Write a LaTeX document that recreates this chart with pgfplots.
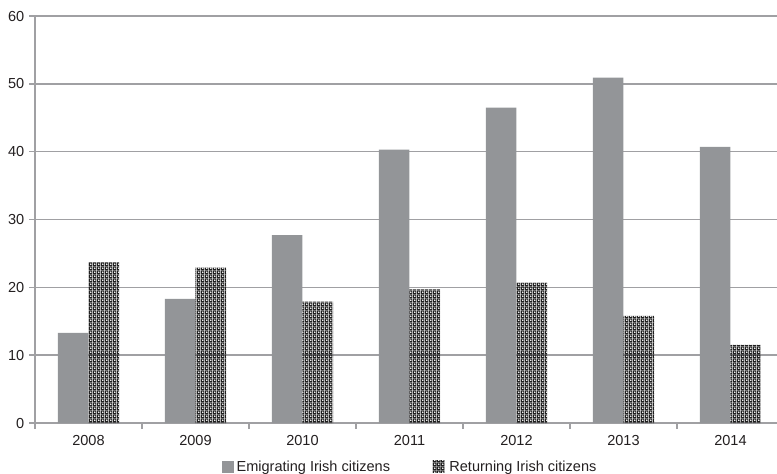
\documentclass[border=0pt]{standalone}
\usepackage{fontspec}
\setmainfont{Liberation Sans}
\usepackage{pgfplots}
\pgfplotsset{compat=1.18}
\usetikzlibrary{patterns}

\definecolor{bargray}{RGB}{147,149,152}
\definecolor{gridgray}{RGB}{160,160,163}
\definecolor{txt}{RGB}{35,31,32}

% square grid of round holes; the dark remainder forms small crosses
\pgfdeclarepatternformonly{holegrid}{\pgfpointorigin}{\pgfpoint{2.8pt}{2.8pt}}{\pgfpoint{2.8pt}{2.8pt}}{%
  \pgfpathrectangle{\pgfpointorigin}{\pgfpoint{2.8pt}{2.8pt}}%
  \pgfpathcircle{\pgfpoint{1.4pt}{1.4pt}}{0.95pt}%
  \pgfseteorule
  \pgfusepath{fill}%
}

\begin{document}
\begin{tikzpicture}
\useasboundingbox (-26.25pt,-38.25pt) rectangle (556.5pt,317.25pt);
\begin{axis}[
  at={(0,0)}, anchor=south west,
  scale only axis,
  width=556.5pt, height=305.25pt,
  xmin=-0.5, xmax=6.435,
  ymin=0, ymax=60,
  ytick={0,10,...,60},
  xtick={0,...,6},
  xticklabels={2008,2009,2010,2011,2012,2013,2014},
  minor xtick={-0.5,0.5,...,5.5},
  x tick style={draw=none},
  minor x tick style={draw=gridgray, line width=1.1pt},
  minor tick length=4.5pt,
  y tick style={draw=gridgray, line width=1.1pt},
  major tick length=4.5pt,
  tick align=outside,
  axis x line*=bottom,
  axis y line*=left,
  axis line style={draw=gridgray, line width=1.1pt, -},
  ymajorgrids,
  major grid style={draw=gridgray, line width=1.1pt},
  ybar=0pt,
  bar width=22.9pt,
  /pgf/number format/assume math mode=true,
  tick label style={font=\fontsize{10.9}{13}\selectfont, text=txt},
  xticklabel style={yshift=-1pt},
  legend style={
    at={(0,0)}, anchor=north west, xshift=140pt, yshift=-26pt,
    draw=none, fill=none, inner sep=0pt,
    font=\fontsize{10.9}{13}\selectfont, text=txt,
    legend columns=2,
  },
  legend image code/.code={\path[#1] (0pt,-4.5pt) rectangle (9pt,4.5pt);},
]
\addplot[fill=bargray, draw=none] coordinates
  {(0,13.3) (1,18.3) (2,27.7) (3,40.3) (4,46.5) (5,50.9) (6,40.7)};
\addlegendentry{Emigrating Irish citizens\kern30pt}
\addplot[pattern=holegrid, pattern color=black!88, draw=none] coordinates
  {(0,23.7) (1,22.9) (2,17.9) (3,19.7) (4,20.7) (5,15.8) (6,11.5)};
\addlegendentry{\hspace{1.5pt}Returning Irish citizens}
\end{axis}
\end{tikzpicture}
\end{document}
